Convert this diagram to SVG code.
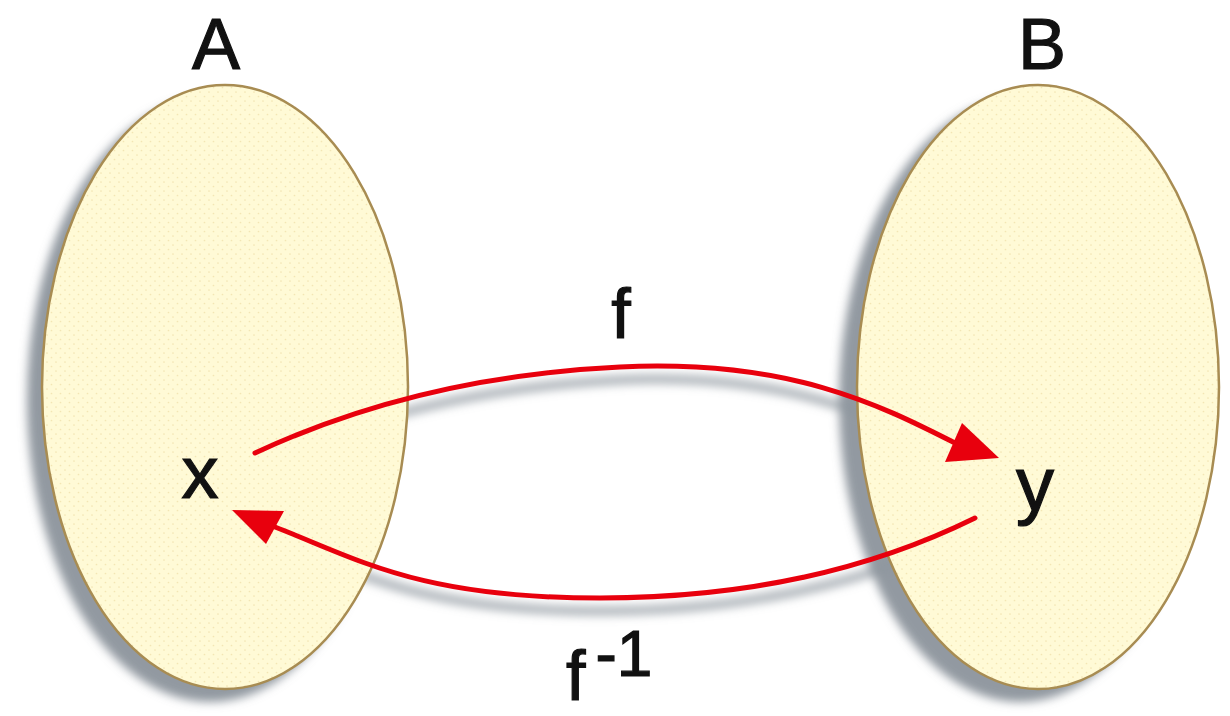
<svg xmlns="http://www.w3.org/2000/svg" width="1230" height="716" viewBox="0 0 1230 716">
  <defs>
    <pattern id="dots" width="9" height="9" patternUnits="userSpaceOnUse">
      <rect width="9" height="9" fill="#fffad6"/>
      <circle cx="2" cy="2" r="0.85" fill="#f3e6b4"/>
      <circle cx="6.5" cy="6.5" r="0.85" fill="#f3e6b4"/>
    </pattern>
    <filter id="blur" x="-20%" y="-20%" width="140%" height="140%">
      <feGaussianBlur stdDeviation="5"/>
    </filter>
    <style>
      .set { fill: url(#dots); stroke: #a88c52; stroke-width: 2.5; }
      .shadow { fill: #7f8790; stroke: none; opacity: 0.85; }
      .shline { fill: none; stroke: #8f979f; stroke-width: 9; opacity: 0.75; }
      .arrow { fill: none; stroke: #e8000d; stroke-width: 5; stroke-linecap: round; }
      .head { fill: #e8000d; }
      .lbl { font-family: "Liberation Sans", Arial, sans-serif; fill: #111; stroke: #111; stroke-width: 1.2; }
    </style>
  </defs>
  <rect width="1230" height="716" fill="#ffffff"/>

  <g id="shadows" filter="url(#blur)">
    <ellipse class="shadow" cx="210" cy="400" rx="183" ry="302"/>
    <ellipse class="shadow" cx="1020" cy="400" rx="181" ry="302"/>
    <path class="shline" d="M255,466 C330,431 450,388 620,380 S880,418 955,456"/>
    <path class="shline" d="M975,531 C900,568 780,611 600,611 S360,573 275,540"/>
  </g>

  <g id="node-A">
    <ellipse class="set" cx="225" cy="387" rx="183" ry="302"/>
    <text class="lbl" x="216" y="69" font-size="72" text-anchor="middle">A</text>
    <text class="lbl" x="200" y="498" font-size="74" text-anchor="middle">x</text>
  </g>

  <g id="node-B">
    <ellipse class="set" cx="1038" cy="387" rx="181" ry="302"/>
    <text class="lbl" x="1042" y="69" font-size="72" text-anchor="middle">B</text>
    <text class="lbl" x="1035" y="510" font-size="76" text-anchor="middle">y</text>
  </g>

  <g id="connectors">
    <path class="arrow" d="M255,453 C330,418 450,375 620,367 S880,405 955,443"/>
    <polygon class="head" points="999,458 945,462 962,423"/>
    <path class="arrow" d="M975,518 C900,555 780,598 600,598 S360,560 275,527"/>
    <polygon class="head" points="232,510 284,511 266,544"/>
    <text class="lbl" x="621" y="338" font-size="70" text-anchor="middle">f</text>
    <text class="lbl" x="566" y="700" font-size="70">f<tspan dx="10" dy="-24" font-size="64">-1</tspan></text>
  </g>
</svg>
